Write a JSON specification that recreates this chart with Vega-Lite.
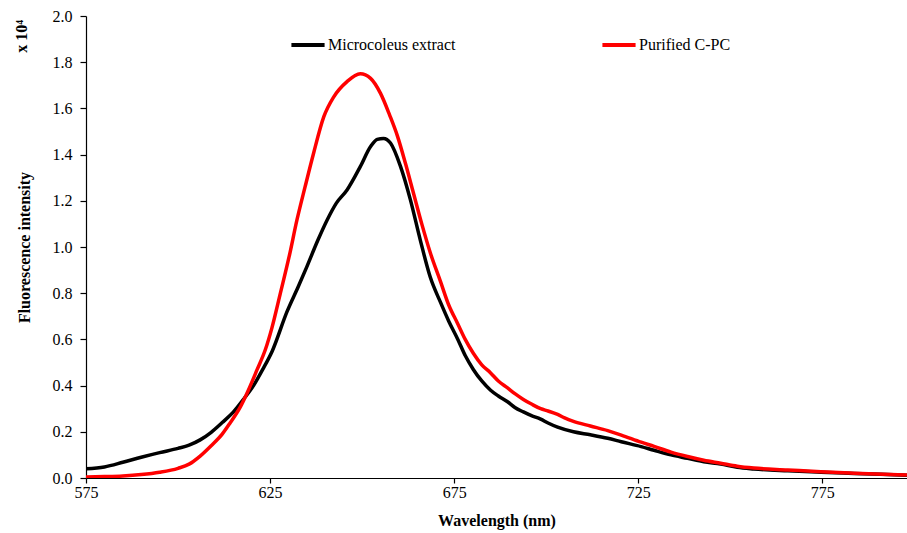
{
  "$schema": "https://vega.github.io/schema/vega-lite/v6.json",
  "width": 821,
  "height": 462,
  "autosize": "none",
  "padding": {"left": 86, "top": 16, "right": 0, "bottom": 55},
  "background": "white",
  "title": {"text": "x 10⁴", "orient": "left", "anchor": "end", "font": "Liberation Serif", "fontSize": 16, "fontWeight": "bold", "color": "black", "offset": -14, "dx": -12},
  "config": {
    "view": {"stroke": null},
    "font": "Liberation Serif",
    "axis": {"labelFont": "Liberation Serif", "titleFont": "Liberation Serif", "labelFontSize": 16, "titleFontSize": 16, "titleFontWeight": "bold", "labelColor": "black", "titleColor": "black", "domainColor": "black", "tickColor": "black", "grid": false, "domainWidth": 1.2, "tickWidth": 1.2}
  },
  "datasets": {
    "spectra": [
      {"wl": 575, "val": 0.04, "series": "Microcoleus extract"},
      {"wl": 580, "val": 0.048, "series": "Microcoleus extract"},
      {"wl": 585, "val": 0.068, "series": "Microcoleus extract"},
      {"wl": 590, "val": 0.09, "series": "Microcoleus extract"},
      {"wl": 595, "val": 0.11, "series": "Microcoleus extract"},
      {"wl": 600, "val": 0.128, "series": "Microcoleus extract"},
      {"wl": 603, "val": 0.142, "series": "Microcoleus extract"},
      {"wl": 606, "val": 0.165, "series": "Microcoleus extract"},
      {"wl": 609, "val": 0.198, "series": "Microcoleus extract"},
      {"wl": 612, "val": 0.24, "series": "Microcoleus extract"},
      {"wl": 615, "val": 0.285, "series": "Microcoleus extract"},
      {"wl": 618, "val": 0.345, "series": "Microcoleus extract"},
      {"wl": 620.5, "val": 0.4, "series": "Microcoleus extract"},
      {"wl": 623, "val": 0.47, "series": "Microcoleus extract"},
      {"wl": 625.6, "val": 0.55, "series": "Microcoleus extract"},
      {"wl": 629.6, "val": 0.72, "series": "Microcoleus extract"},
      {"wl": 632.7, "val": 0.83, "series": "Microcoleus extract"},
      {"wl": 635, "val": 0.915, "series": "Microcoleus extract"},
      {"wl": 638, "val": 1.03, "series": "Microcoleus extract"},
      {"wl": 640.5, "val": 1.117, "series": "Microcoleus extract"},
      {"wl": 643, "val": 1.19, "series": "Microcoleus extract"},
      {"wl": 645.9, "val": 1.247, "series": "Microcoleus extract"},
      {"wl": 649.5, "val": 1.348, "series": "Microcoleus extract"},
      {"wl": 652.3, "val": 1.435, "series": "Microcoleus extract"},
      {"wl": 654.1, "val": 1.466, "series": "Microcoleus extract"},
      {"wl": 655.8, "val": 1.47, "series": "Microcoleus extract"},
      {"wl": 657.7, "val": 1.45, "series": "Microcoleus extract"},
      {"wl": 660.4, "val": 1.35, "series": "Microcoleus extract"},
      {"wl": 663.1, "val": 1.205, "series": "Microcoleus extract"},
      {"wl": 665.8, "val": 1.03, "series": "Microcoleus extract"},
      {"wl": 668.5, "val": 0.87, "series": "Microcoleus extract"},
      {"wl": 671.3, "val": 0.76, "series": "Microcoleus extract"},
      {"wl": 673.5, "val": 0.68, "series": "Microcoleus extract"},
      {"wl": 676, "val": 0.6, "series": "Microcoleus extract"},
      {"wl": 678, "val": 0.53, "series": "Microcoleus extract"},
      {"wl": 680.2, "val": 0.47, "series": "Microcoleus extract"},
      {"wl": 682.5, "val": 0.42, "series": "Microcoleus extract"},
      {"wl": 684.9, "val": 0.38, "series": "Microcoleus extract"},
      {"wl": 687, "val": 0.355, "series": "Microcoleus extract"},
      {"wl": 689.5, "val": 0.33, "series": "Microcoleus extract"},
      {"wl": 691.5, "val": 0.305, "series": "Microcoleus extract"},
      {"wl": 693.8, "val": 0.286, "series": "Microcoleus extract"},
      {"wl": 696, "val": 0.27, "series": "Microcoleus extract"},
      {"wl": 698.5, "val": 0.255, "series": "Microcoleus extract"},
      {"wl": 700.5, "val": 0.238, "series": "Microcoleus extract"},
      {"wl": 703.1, "val": 0.22, "series": "Microcoleus extract"},
      {"wl": 707.4, "val": 0.2, "series": "Microcoleus extract"},
      {"wl": 712, "val": 0.187, "series": "Microcoleus extract"},
      {"wl": 716.7, "val": 0.172, "series": "Microcoleus extract"},
      {"wl": 720.4, "val": 0.157, "series": "Microcoleus extract"},
      {"wl": 725.8, "val": 0.136, "series": "Microcoleus extract"},
      {"wl": 729.3, "val": 0.12, "series": "Microcoleus extract"},
      {"wl": 733.9, "val": 0.1, "series": "Microcoleus extract"},
      {"wl": 738.4, "val": 0.085, "series": "Microcoleus extract"},
      {"wl": 742.8, "val": 0.07, "series": "Microcoleus extract"},
      {"wl": 747.4, "val": 0.06, "series": "Microcoleus extract"},
      {"wl": 751.9, "val": 0.046, "series": "Microcoleus extract"},
      {"wl": 756.4, "val": 0.039, "series": "Microcoleus extract"},
      {"wl": 765.6, "val": 0.031, "series": "Microcoleus extract"},
      {"wl": 774.6, "val": 0.025, "series": "Microcoleus extract"},
      {"wl": 783.6, "val": 0.02, "series": "Microcoleus extract"},
      {"wl": 798, "val": 0.012, "series": "Microcoleus extract"},
      {"wl": 575, "val": 0.004, "series": "Purified C-PC"},
      {"wl": 580, "val": 0.006, "series": "Purified C-PC"},
      {"wl": 585, "val": 0.009, "series": "Purified C-PC"},
      {"wl": 590, "val": 0.015, "series": "Purified C-PC"},
      {"wl": 595, "val": 0.025, "series": "Purified C-PC"},
      {"wl": 600, "val": 0.042, "series": "Purified C-PC"},
      {"wl": 603, "val": 0.06, "series": "Purified C-PC"},
      {"wl": 606, "val": 0.095, "series": "Purified C-PC"},
      {"wl": 609, "val": 0.14, "series": "Purified C-PC"},
      {"wl": 612, "val": 0.19, "series": "Purified C-PC"},
      {"wl": 614, "val": 0.235, "series": "Purified C-PC"},
      {"wl": 617, "val": 0.31, "series": "Purified C-PC"},
      {"wl": 619.1, "val": 0.38, "series": "Purified C-PC"},
      {"wl": 621.5, "val": 0.47, "series": "Purified C-PC"},
      {"wl": 623.7, "val": 0.555, "series": "Purified C-PC"},
      {"wl": 625.5, "val": 0.65, "series": "Purified C-PC"},
      {"wl": 627.8, "val": 0.8, "series": "Purified C-PC"},
      {"wl": 630.2, "val": 0.96, "series": "Purified C-PC"},
      {"wl": 632.3, "val": 1.117, "series": "Purified C-PC"},
      {"wl": 634.5, "val": 1.26, "series": "Purified C-PC"},
      {"wl": 636.8, "val": 1.405, "series": "Purified C-PC"},
      {"wl": 639.6, "val": 1.564, "series": "Purified C-PC"},
      {"wl": 642.3, "val": 1.65, "series": "Purified C-PC"},
      {"wl": 645.9, "val": 1.716, "series": "Purified C-PC"},
      {"wl": 649.5, "val": 1.75, "series": "Purified C-PC"},
      {"wl": 652.3, "val": 1.73, "series": "Purified C-PC"},
      {"wl": 655, "val": 1.665, "series": "Purified C-PC"},
      {"wl": 657.5, "val": 1.57, "series": "Purified C-PC"},
      {"wl": 659.6, "val": 1.48, "series": "Purified C-PC"},
      {"wl": 661.8, "val": 1.36, "series": "Purified C-PC"},
      {"wl": 663.9, "val": 1.236, "series": "Purified C-PC"},
      {"wl": 666.2, "val": 1.1, "series": "Purified C-PC"},
      {"wl": 668.5, "val": 0.976, "series": "Purified C-PC"},
      {"wl": 671.3, "val": 0.85, "series": "Purified C-PC"},
      {"wl": 673.5, "val": 0.75, "series": "Purified C-PC"},
      {"wl": 675.9, "val": 0.67, "series": "Purified C-PC"},
      {"wl": 678, "val": 0.6, "series": "Purified C-PC"},
      {"wl": 680.2, "val": 0.54, "series": "Purified C-PC"},
      {"wl": 682.5, "val": 0.49, "series": "Purified C-PC"},
      {"wl": 684.9, "val": 0.455, "series": "Purified C-PC"},
      {"wl": 687, "val": 0.42, "series": "Purified C-PC"},
      {"wl": 689.5, "val": 0.39, "series": "Purified C-PC"},
      {"wl": 691.5, "val": 0.365, "series": "Purified C-PC"},
      {"wl": 693.8, "val": 0.34, "series": "Purified C-PC"},
      {"wl": 696, "val": 0.32, "series": "Purified C-PC"},
      {"wl": 698.5, "val": 0.3, "series": "Purified C-PC"},
      {"wl": 700.5, "val": 0.29, "series": "Purified C-PC"},
      {"wl": 703.1, "val": 0.275, "series": "Purified C-PC"},
      {"wl": 705, "val": 0.26, "series": "Purified C-PC"},
      {"wl": 707.4, "val": 0.245, "series": "Purified C-PC"},
      {"wl": 712, "val": 0.225, "series": "Purified C-PC"},
      {"wl": 716.7, "val": 0.205, "series": "Purified C-PC"},
      {"wl": 720.4, "val": 0.186, "series": "Purified C-PC"},
      {"wl": 725.8, "val": 0.155, "series": "Purified C-PC"},
      {"wl": 729.3, "val": 0.137, "series": "Purified C-PC"},
      {"wl": 733.9, "val": 0.112, "series": "Purified C-PC"},
      {"wl": 738.4, "val": 0.093, "series": "Purified C-PC"},
      {"wl": 742.8, "val": 0.077, "series": "Purified C-PC"},
      {"wl": 747.4, "val": 0.064, "series": "Purified C-PC"},
      {"wl": 751.9, "val": 0.051, "series": "Purified C-PC"},
      {"wl": 756.4, "val": 0.043, "series": "Purified C-PC"},
      {"wl": 765.6, "val": 0.035, "series": "Purified C-PC"},
      {"wl": 774.6, "val": 0.027, "series": "Purified C-PC"},
      {"wl": 783.6, "val": 0.021, "series": "Purified C-PC"},
      {"wl": 798, "val": 0.013, "series": "Purified C-PC"}
    ]
  },
  "data": {"name": "spectra"},
  "mark": {"type": "line", "strokeWidth": 3.5, "interpolate": "monotone", "clip": true},
  "encoding": {
    "x": {
      "field": "wl", "type": "quantitative", "title": "Wavelength (nm)",
      "scale": {"domain": [575, 798], "nice": false, "zero": false},
      "axis": {"values": [575, 625, 675, 725, 775], "tickSize": 5, "labelPadding": 1, "titlePadding": 12, "labelFlush": false}
    },
    "y": {
      "field": "val", "type": "quantitative", "title": "Fluorescence intensity",
      "scale": {"domain": [0, 2], "nice": false},
      "axis": {"values": [0, 0.2, 0.4, 0.6, 0.8, 1.0, 1.2, 1.4, 1.6, 1.8, 2.0], "format": ".1f", "tickSize": 6, "labelPadding": 8, "titlePadding": 20, "labelFlush": false}
    },
    "color": {
      "field": "series", "type": "nominal",
      "scale": {"domain": ["Microcoleus extract", "Purified C-PC"], "range": ["#000000", "#ff0000"]},
      "legend": {
        "title": null, "orient": "none", "legendX": 203, "legendY": 10, "direction": "horizontal",
        "symbolType": "stroke", "symbolSize": 1100, "symbolStrokeWidth": 4,
        "labelFont": "Liberation Serif", "labelFontSize": 16, "labelColor": "black", "labelOffset": 1,
        "columnPadding": 138, "labelLimit": 300
      }
    }
  }
}
